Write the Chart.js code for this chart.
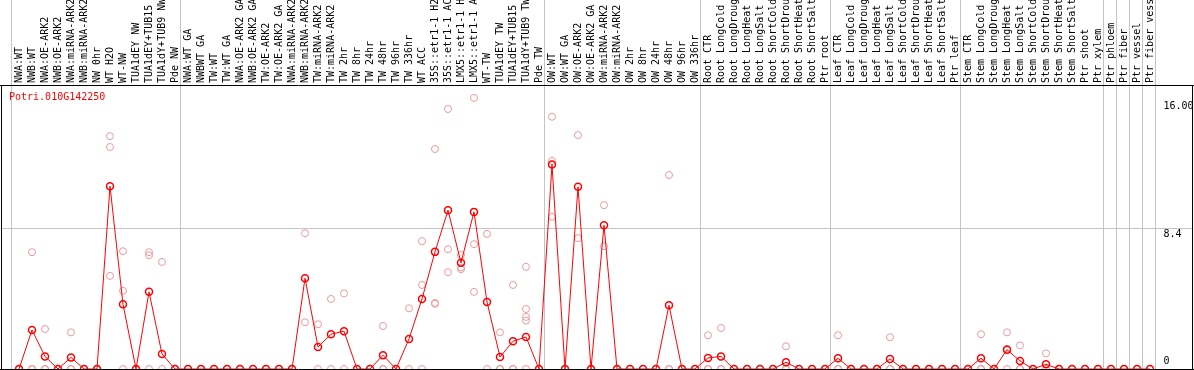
<!DOCTYPE html>
<html>
<head>
<meta charset="utf-8">
<title>Potri.010G142250</title>
<script src="https://cdn.jsdelivr.net/npm/chart.js@4.4.0/dist/chart.umd.min.js"></script>
<style>
  html, body { margin: 0; padding: 0; background: #fff; }
  #wrap { width: 1194px; height: 370px; position: relative; }
</style>
</head>
<body>
<div id="wrap"><canvas id="exprChart"></canvas></div>
<script>
// gene shown in the panel
const geneName = 'Potri.010G142250';

// sample names (cut to 14 chars like the source plot)
const sampleLabels = [
  'NWA:WT', 'NWB:WT', 'NWA:OE-ARK2', 'NWB:OE-ARK2', 'NWA:miRNA-ARK2', 'NWB:miRNA-ARK2',
  'NW 0hr', 'WT H2O', 'WT-NW', 'TUA1dEY NW', 'TUA1dEY+TUB15', 'TUA1dY+TUB9 NW', 'Pde NW',
  'NWA:WT GA', 'NWBWT GA', 'TW:WT', 'TW:WT GA', 'NWA:OE-ARK2 GA', 'NWB:OE-ARK2 GA',
  'TW:OE-ARK2', 'TW:OE-ARK2 GA', 'NWA:miRNA-ARK2', 'NWB:miRNA-ARK2', 'TW:miRNA-ARK2', 'TW:miRNA-ARK2',
  'TW 2hr', 'TW 8hr', 'TW 24hr', 'TW 48hr', 'TW 96hr', 'TW 336hr', 'WT ACC',
  '35S::etr1-1 H2', '35S::etr1-1 AC', 'LMX5::etr1-1 H', 'LMX5::etr1-1 A',
  'WT-TW', 'TUA1dEY TW', 'TUA1dEY+TUB15', 'TUA1dY+TUB9 TW', 'Pde TW',
  'OW:WT', 'OW:WT GA', 'OW:OE-ARK2', 'OW:OE-ARK2 GA', 'OW:miRNA-ARK2', 'OW:miRNA-ARK2',
  'OW 2hr', 'OW 8hr', 'OW 24hr', 'OW 48hr', 'OW 96hr', 'OW 336hr',
  'Root CTR', 'Root LongCold', 'Root LongDroug', 'Root LongHeat', 'Root LongSalt',
  'Root ShortCold', 'Root ShortDrou', 'Root ShortHeat', 'Root ShortSalt', 'Ptr root',
  'Leaf CTR', 'Leaf LongCold', 'Leaf LongDroug', 'Leaf LongHeat', 'Leaf LongSalt',
  'Leaf ShortCold', 'Leaf ShortDrou', 'Leaf ShortHeat', 'Leaf ShortSalt', 'Ptr leaf',
  'Stem CTR', 'Stem LongCold', 'Stem LongDroug', 'Stem LongHeat', 'Stem LongSalt',
  'Stem ShortCold', 'Stem ShortDrou', 'Stem ShortHeat', 'Stem ShortSalt', 'Ptr shoot', 'Ptr xylem',
  'Ptr phloem', 'Ptr fiber', 'Ptr vessel', 'Ptr fiber vess'
];

// mean expression per sample (red line)
const meanValues = [
  0, 2.32, 0.75, 0, 0.69, 0, 0, 10.88, 3.85, 0, 4.59, 0.89, 0,
  0, 0, 0, 0, 0, 0, 0, 0, 0, 5.40, 1.31, 2.07,
  2.25, 0, 0, 0.82, 0, 1.79, 4.17,
  6.97, 9.45, 6.32, 9.35,
  3.99, 0.71, 1.65, 1.91, 0,
  12.17, 0, 10.84, 0, 8.56, 0,
  0, 0, 0, 3.79, 0, 0,
  0.66, 0.75, 0, 0, 0, 0, 0.40, 0, 0, 0,
  0.64, 0, 0, 0, 0.60, 0, 0, 0, 0, 0,
  0, 0.64, 0, 1.15, 0.48, 0, 0.28, 0, 0, 0, 0,
  0, 0, 0, 0
];

// single replicates per sample (pink circles)
const replicateValues = [
  [0, 0], [6.95, 0, 0], [2.38, 0, 0], [0, 0], [2.18, 0, 0], [0, 0],
  [0, 0], [13.86, 13.21, 5.54], [7.01, 4.65, 0], [0, 0], [6.95, 6.77, 0], [6.37, 0], [0, 0],
  [0], [0], [0], [0], [0], [0],
  [0], [0], [0], [8.08, 2.78], [2.66, 0], [4.17, 0],
  [4.5, 0], [0], [0], [2.56, 0, 0], [0], [3.61, 0], [7.61, 5.0, 0],
  [13.09, 3.93, 3.88], [15.47, 7.13, 5.76], [6.79, 6.04, 5.94], [16.13, 7.43, 4.59],
  [8.04, 0], [2.18, 0, 0], [5.0, 0, 0], [6.08, 3.57, 3.10, 2.88, 0], [0],
  [15.01, 12.39, 9.06], [0], [13.92, 7.79], [0], [9.75, 7.31], [0],
  [0], [0], [0], [11.54, 0, 0], [0], [0],
  [2.01, 0, 0], [2.44, 0, 0], [0], [0], [0], [0], [1.35, 0, 0], [0], [0], [0],
  [2.01, 0, 0], [0], [0], [0], [1.89, 0, 0], [0], [0], [0], [0], [0],
  [0], [2.07, 0, 0], [0], [2.18, 1.2, 0], [1.41, 0, 0], [0], [0.93, 0, 0], [0], [0], [0], [0],
  [0], [0], [0], [0]
];

// how many samples sit between the grey separators
const groupSizes = [13, 28, 12, 10, 10, 11, 1, 1, 1, 1];

const yTickValues = [0, 8.4, 16];
const yTickLabels = ['0', '8.4', '16.00'];
const yMax = 16.9;

const monoFont = '10px "DejaVu Sans Mono", "Liberation Mono", monospace';

// one dataset per replicate slot
const maxReps = Math.max(...replicateValues.map(r => r.length));
const repDatasets = [];
for (let r = 0; r < maxReps; r++) {
  repDatasets.push({
    label: 'rep' + (r + 1),
    data: replicateValues.map(reps => (r < reps.length ? reps[r] : null)),
    showLine: false,
    pointRadius: 3.5,
    pointBorderWidth: 1,
    pointBorderColor: '#ea9a9a',
    pointBackgroundColor: 'rgba(0,0,0,0)'
  });
}

const panelPlugin = {
  id: 'panel',
  beforeDatasetsDraw(chart) {
    const ctx = chart.ctx;
    const area = chart.chartArea;
    const xs = chart.scales.x;
    const ys = chart.scales.y;
    ctx.save();
    ctx.strokeStyle = '#c4c4c4';
    ctx.lineWidth = 1;
    // group separators, running through the label band too
    let b = 0;
    const bounds = [0];
    groupSizes.forEach(n => { b += n; bounds.push(b); });
    bounds.forEach(i => {
      const x = Math.round(xs.getPixelForValue(i - 0.5) - 2) + 0.5;
      ctx.beginPath();
      ctx.moveTo(x, 0);
      ctx.lineTo(x, area.bottom);
      ctx.stroke();
    });
    // middle grid line
    const gy = Math.round(ys.getPixelForValue(8.4)) + 0.5;
    ctx.beginPath();
    ctx.moveTo(1, gy);
    ctx.lineTo(chart.width - 2, gy);
    ctx.stroke();
    ctx.restore();
  },
  afterDatasetsDraw(chart) {
    const ctx = chart.ctx;
    const area = chart.chartArea;
    const ys = chart.scales.y;
    ctx.save();
    // black frame
    ctx.strokeStyle = '#000';
    ctx.lineWidth = 1;
    ctx.beginPath();
    ctx.moveTo(0, area.top + 0.5);
    ctx.lineTo(chart.width, area.top + 0.5);
    ctx.moveTo(0, area.bottom + 0.5);
    ctx.lineTo(chart.width, area.bottom + 0.5);
    ctx.moveTo(1.5, area.top);
    ctx.lineTo(1.5, chart.height);
    ctx.moveTo(chart.width - 1.5, area.top);
    ctx.lineTo(chart.width - 1.5, chart.height);
    ctx.stroke();

    // y labels on the right
    ctx.font = monoFont;
    ctx.fillStyle = '#000';
    ctx.textAlign = 'left';
    yTickValues.forEach((v, i) => {
      const py = ys.getPixelForValue(v);
      if (v === 0) {
        ctx.textBaseline = 'bottom';
        ctx.fillText(yTickLabels[i], area.right + 7, py - 3);
      } else {
        ctx.textBaseline = 'top';
        ctx.fillText(yTickLabels[i], area.right + 7, py + 1.5);
      }
    });

    // gene name
    ctx.fillStyle = '#ff0000';
    ctx.textBaseline = 'top';
    ctx.fillText(geneName, area.left - 3.5, area.top + 7);
    ctx.restore();
  }
};

new Chart(document.getElementById('exprChart'), {
  type: 'line',
  data: {
    labels: sampleLabels,
    datasets: [
      {
        label: geneName,
        data: meanValues,
        borderColor: '#ff0000',
        borderWidth: 1,
        tension: 0,
        pointRadius: 3.5,
        pointBorderWidth: 1.5,
        pointBorderColor: '#ff0000',
        pointBackgroundColor: 'rgba(0,0,0,0)'
      },
      ...repDatasets
    ]
  },
  options: {
    responsive: true,
    maintainAspectRatio: false,
    animation: false,
    events: [],
    layout: { autoPadding: false, padding: { left: 12.5, right: 0, top: 0, bottom: 1 } },
    plugins: {
      legend: { display: false },
      tooltip: { enabled: false },
      title: { display: false }
    },
    scales: {
      x: {
        type: 'category',
        position: 'top',
        offset: true,
        grid: { display: false, drawTicks: false },
        border: { display: false },
        ticks: {
          autoSkip: false,
          minRotation: 90,
          maxRotation: 90,
          padding: 2,
          labelOffset: 12.5,
          color: '#000',
          font: { family: '"DejaVu Sans Mono", "Liberation Mono", monospace', size: 10 }
        },
        afterFit(scale) { scale.height = 85; }
      },
      y: {
        position: 'right',
        min: 0,
        max: yMax,
        grid: { display: false, drawTicks: false },
        border: { display: false },
        ticks: { display: false },
        afterFit(scale) { scale.width = 37.5; }
      }
    }
  },
  plugins: [panelPlugin]
});
</script>
</body>
</html>
